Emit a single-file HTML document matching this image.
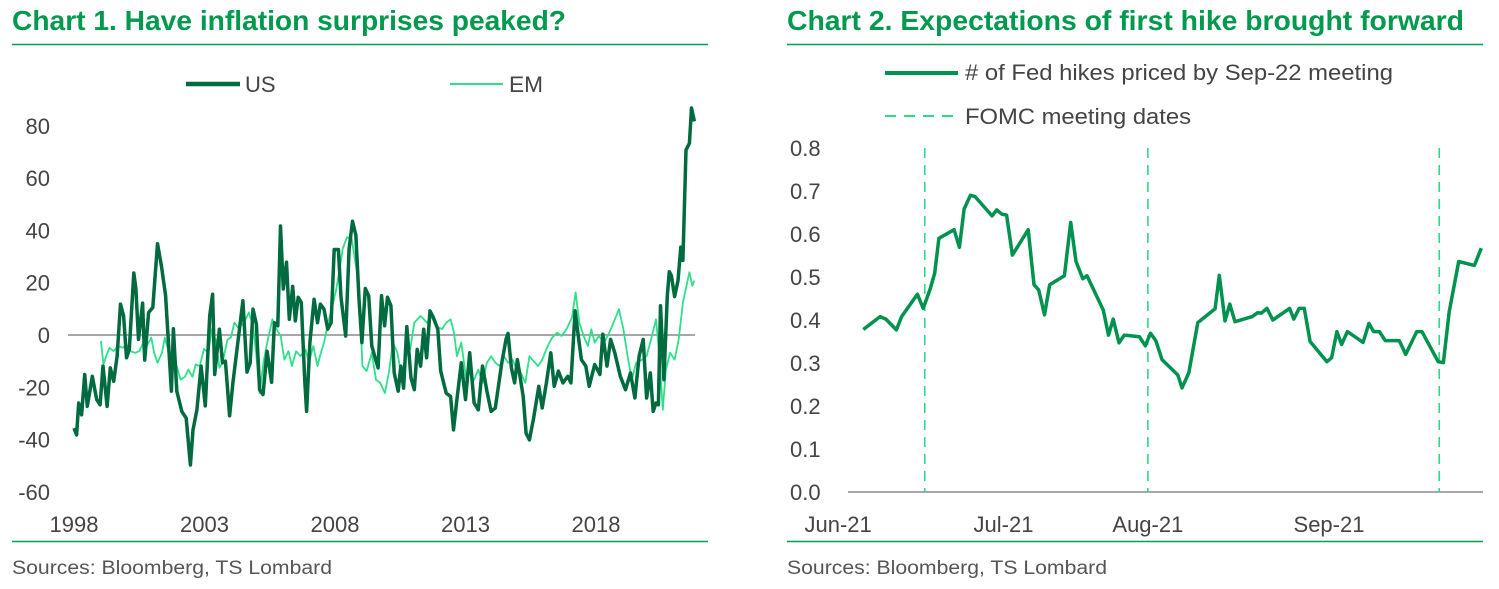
<!DOCTYPE html>
<html><head><meta charset="utf-8"><style>
html,body{margin:0;padding:0;background:#fff;}
svg{display:block;font-family:"Liberation Sans",sans-serif;}
</style></head><body>
<svg width="1499" height="589" viewBox="0 0 1499 589" xmlns="http://www.w3.org/2000/svg">
<text x="12" y="30" font-size="28" font-weight="bold" fill="#009A4E" textLength="554" lengthAdjust="spacingAndGlyphs">Chart 1. Have inflation surprises peaked?</text>
<line x1="12" y1="44.5" x2="708" y2="44.5" stroke="#00A050" stroke-width="1.5"/>
<line x1="12" y1="541.5" x2="708" y2="541.5" stroke="#00A050" stroke-width="1.5"/>
<text x="12" y="574" font-size="19" fill="#555" textLength="320" lengthAdjust="spacingAndGlyphs">Sources: Bloomberg, TS Lombard</text>
<text x="787" y="30" font-size="28" font-weight="bold" fill="#009A4E" textLength="677" lengthAdjust="spacingAndGlyphs">Chart 2. Expectations of first hike brought forward</text>
<line x1="787" y1="44.5" x2="1483" y2="44.5" stroke="#00A050" stroke-width="1.5"/>
<line x1="787" y1="541.5" x2="1483" y2="541.5" stroke="#00A050" stroke-width="1.5"/>
<text x="787" y="574" font-size="19" fill="#555" textLength="320" lengthAdjust="spacingAndGlyphs">Sources: Bloomberg, TS Lombard</text>

<g>
<line x1="186" y1="84" x2="240" y2="84" stroke="#006B3F" stroke-width="4.5"/>
<text x="245" y="92" font-size="22" fill="#444">US</text>
<line x1="450" y1="84" x2="503" y2="84" stroke="#2EE08A" stroke-width="2"/>
<text x="509" y="92" font-size="22" fill="#444" textLength="34" lengthAdjust="spacingAndGlyphs">EM</text>
</g>
<g>
<line x1="885" y1="73" x2="958" y2="73" stroke="#00934F" stroke-width="4"/>
<text x="965" y="80" font-size="22" fill="#444" textLength="428" lengthAdjust="spacingAndGlyphs"># of Fed hikes priced by Sep-22 meeting</text>
<line x1="885" y1="116" x2="958" y2="116" stroke="#2ED888" stroke-width="2" stroke-dasharray="11,8"/>
<text x="965" y="124" font-size="22" fill="#444" textLength="226" lengthAdjust="spacingAndGlyphs">FOMC meeting dates</text>
</g>
<g id="c1"></g>
<g id="c2"></g>
</svg>
<script>
const NS="http://www.w3.org/2000/svg";
// ---- Chart 1 data ----
const c1YTicks=[80,60,40,20,0,-20,-40,-60];
const c1XTicks=[1998,2003,2008,2013,2018];
const usYears=[1998.00,1998.10,1998.18,1998.29,1998.41,1998.51,1998.70,1998.87,1999.00,1999.11,1999.27,1999.39,1999.52,1999.65,1999.78,1999.90,2000.01,2000.12,2000.29,2000.37,2000.47,2000.63,2000.71,2000.86,2001.02,2001.20,2001.35,2001.51,2001.73,2001.81,2001.94,2002.13,2002.30,2002.46,2002.56,2002.71,2002.87,2003.03,2003.20,2003.31,2003.39,2003.57,2003.69,2003.80,2003.96,2004.09,2004.29,2004.47,2004.63,2004.75,2004.86,2004.99,2005.11,2005.24,2005.40,2005.57,2005.68,2005.81,2005.91,2006.02,2006.14,2006.25,2006.38,2006.48,2006.59,2006.71,2006.84,2006.91,2007.04,2007.20,2007.33,2007.44,2007.58,2007.72,2007.85,2007.97,2008.13,2008.23,2008.41,2008.54,2008.67,2008.80,2008.92,2009.03,2009.16,2009.29,2009.41,2009.65,2009.78,2009.90,2010.01,2010.14,2010.27,2010.42,2010.52,2010.63,2010.75,2010.91,2011.04,2011.15,2011.28,2011.40,2011.51,2011.64,2011.77,2011.94,2012.05,2012.26,2012.43,2012.54,2012.67,2012.84,2013.00,2013.16,2013.33,2013.49,2013.65,2013.82,2013.98,2014.14,2014.39,2014.55,2014.63,2014.76,2014.88,2014.99,2015.21,2015.32,2015.45,2015.61,2015.81,2015.94,2016.10,2016.27,2016.40,2016.56,2016.73,2016.92,2017.04,2017.20,2017.33,2017.44,2017.61,2017.74,2017.95,2018.15,2018.26,2018.42,2018.56,2018.72,2018.93,2019.13,2019.32,2019.49,2019.65,2019.81,2019.94,2020.08,2020.19,2020.30,2020.39,2020.47,2020.60,2020.73,2020.81,2020.89,2021.01,2021.14,2021.25,2021.33,2021.45,2021.58,2021.66,2021.77];
const usValues=[-35.6,-38.2,-26.0,-30.5,-15.1,-27.3,-15.8,-24.7,-26.7,-11.9,-27.3,-12.6,-17.7,-8.1,11.8,7.3,-8.7,-5.5,23.7,17.6,-1.7,12.2,-9.6,8.6,10.5,34.9,26.5,15.0,-21.5,2.4,-21.5,-29.2,-31.8,-49.7,-36.3,-28.6,-11.9,-27.1,7.3,15.6,-15.1,2.2,-10.6,-10.0,-30.9,-18.3,-1.7,13.1,-14.2,-10.6,9.9,4.1,-20.9,-22.8,-6.2,-18.1,4.7,3.5,41.7,17.6,27.8,6.0,18.6,5.4,14.4,12.4,-17.1,-29.2,-2.9,13.7,4.7,11.8,9.9,2.2,4.7,32.7,32.7,14.4,-0.4,32.9,43.5,38.1,13.7,-2.9,17.8,15.0,-4.2,-12.6,15.0,3.5,14.4,11.2,-14.5,-21.5,-11.9,-20.3,3.2,-16.4,-20.9,-5.5,-11.9,2.2,-8.7,9.2,6.7,2.2,-13.8,-22.2,-23.5,-36.3,-24.7,-10.6,-24.7,-6.8,-26.0,-28.6,-11.9,-21.5,-29.2,-27.9,-10.6,-1.7,0.6,-12.6,-18.3,-9.4,-23.5,-37.6,-40.1,-31.8,-19.6,-27.9,-18.3,-6.8,-19.6,-13.8,-18.3,-15.8,-18.3,9.2,-1.0,-9.4,-11.9,-19.6,-11.3,-15.1,0.3,-11.9,-1.7,-6.8,-15.8,-20.9,-14.5,-24.1,-8.1,-1.7,-24.1,-14.5,-29.2,-26.0,-26.7,11.2,-17.1,15.0,24.2,22.7,14.7,20.8,33.6,28.5,70.8,73.3,86.8,81.7];
const emYears=[1999.03,1999.13,1999.23,1999.36,1999.52,1999.68,1999.88,2000.01,2000.17,2000.34,2000.50,2000.61,2000.70,2000.79,2000.96,2001.07,2001.20,2001.37,2001.48,2001.64,2001.77,2001.94,2002.08,2002.25,2002.38,2002.54,2002.66,2002.82,2002.98,2003.15,2003.28,2003.44,2003.57,2003.69,2003.88,2004.01,2004.14,2004.29,2004.50,2004.70,2004.86,2004.99,2005.11,2005.27,2005.43,2005.60,2005.76,2005.92,2006.06,2006.22,2006.35,2006.51,2006.68,2006.87,2007.00,2007.17,2007.33,2007.44,2007.58,2007.74,2007.93,2008.05,2008.18,2008.29,2008.46,2008.64,2008.78,2008.92,2009.05,2009.21,2009.41,2009.57,2009.73,2009.91,2010.06,2010.22,2010.39,2010.55,2010.71,2010.88,2011.04,2011.28,2011.53,2011.69,2011.86,2012.10,2012.26,2012.43,2012.56,2012.67,2012.84,2013.03,2013.16,2013.33,2013.49,2013.65,2013.82,2013.98,2014.14,2014.31,2014.47,2014.63,2014.80,2014.96,2015.12,2015.29,2015.45,2015.61,2015.78,2015.94,2016.15,2016.32,2016.51,2016.68,2016.87,2017.08,2017.22,2017.36,2017.53,2017.69,2017.82,2017.95,2018.11,2018.31,2018.51,2018.67,2018.88,2019.05,2019.21,2019.37,2019.54,2019.78,2019.94,2020.14,2020.30,2020.43,2020.56,2020.68,2020.84,2021.01,2021.17,2021.33,2021.58,2021.69,2021.77];
const emValues=[-2.3,-11.3,-8.1,-4.9,-6.2,-4.2,-4.9,-3.6,-6.2,-6.8,-6.2,-4.0,-1.4,-4.2,-1.0,-6.8,-10.6,-6.8,-1.0,-6.8,-8.1,-11.9,-17.1,-16.0,-13.2,-16.0,-11.3,-11.9,-5.3,-6.8,2.2,-2.3,-12.6,-10.6,-1.7,-1.0,4.7,2.8,4.5,8.6,3.5,-8.1,-22.2,-10.0,-1.7,6.0,2.2,-0.4,-9.4,-6.2,-11.9,-6.2,-8.1,-5.5,-10.6,-4.2,-11.9,-7.4,-2.9,4.7,12.4,17.6,25.3,32.9,37.4,36.8,27.8,18.8,-11.9,-13.8,-6.8,-17.1,-18.3,-22.2,-14.5,-2.9,-6.8,-15.8,-8.1,-5.5,4.7,7.3,4.7,7.3,3.5,2.2,4.7,6.0,0.9,-8.1,-2.9,-17.1,-14.5,-17.1,-13.2,-18.3,-10.6,-8.1,-10.6,-11.9,-8.1,-10.6,-9.4,-13.2,-14.5,-18.3,-8.1,-10.0,-11.9,-9.4,-4.2,-1.0,0.9,-0.4,2.2,6.7,16.3,4.7,-0.4,-4.2,2.2,-2.9,-0.4,-2.9,0.9,4.7,9.9,2.2,-8.1,-17.1,-10.6,-9.4,-8.1,-0.4,6.0,-8.1,-28.6,-13.2,-6.8,-9.4,-1.7,12.4,24.0,18.8,20.8];
// ---- Chart 2 data (x = days since 1 Jun 2021) ----
const c2YTicks=[0.0,0.1,0.2,0.3,0.4,0.5,0.6,0.7,0.8];
const c2XTickLabels=["Jun-21","Jul-21","Aug-21","Sep-21"];
const c2XTickDays=[-1.5,30,57.5,92];
const fomcDays=[15,57.5,113];
const hikeDays=[3.3,6.5,7.6,9.6,10.6,13.6,14.7,16,16.9,17.7,20.6,21.6,22.5,23.7,24.6,27.8,28.7,29.7,30.6,31.7,34.7,35.8,36.7,37.8,38.8,41.6,42.8,43.8,45.1,45.9,49,50,50.9,52,53,55.9,57,58,59,60.2,63.2,64,65.3,67,70.3,71.1,72.2,73.1,74.1,77.4,78.4,79.1,80.2,81.3,84.5,85.3,86.3,87.3,88.4,91.6,92.5,93.5,94.4,95.5,98.5,99.6,100.5,101.6,102.7,105.4,106.6,108.7,109.7,112.8,113.8,114.9,116.7,119.7,121];
const hikeValues=[0.378,0.408,0.402,0.377,0.408,0.46,0.427,0.471,0.509,0.59,0.61,0.569,0.658,0.69,0.687,0.642,0.656,0.646,0.644,0.551,0.61,0.482,0.47,0.412,0.482,0.503,0.627,0.536,0.496,0.503,0.423,0.365,0.402,0.347,0.365,0.361,0.34,0.369,0.352,0.308,0.272,0.242,0.277,0.394,0.426,0.504,0.398,0.437,0.396,0.408,0.417,0.416,0.427,0.4,0.427,0.402,0.427,0.427,0.35,0.303,0.312,0.373,0.343,0.373,0.348,0.392,0.373,0.373,0.352,0.352,0.32,0.373,0.373,0.303,0.301,0.419,0.536,0.527,0.567];

const x1=y=>74+(y-1998)*26.1;
const y1=v=>335-v*2.615;
const x2=d=>846+d*5.25;
const y2=v=>492-v*430;

function mk(tag,attrs,parent){const e=document.createElementNS(NS,tag);for(const k in attrs)e.setAttribute(k,attrs[k]);parent.appendChild(e);return e;}
const g1=document.getElementById('c1'), g2=document.getElementById('c2');

c1YTicks.forEach(v=>{const t=mk('text',{x:50,y:y1(v)+8,'font-size':22,fill:'#444','text-anchor':'end'},g1);t.textContent=v;

});
c1XTicks.forEach(v=>{const t=mk('text',{x:x1(v),y:532,'font-size':22,fill:'#444','text-anchor':'middle'},g1);t.textContent=v;

});
const z=mk('line',{x1:68,x2:695,y1:y1(0),y2:y1(0),stroke:'#8a8a8a','stroke-width':1.5},g1);


const emP=mk('polyline',{points:emYears.map((y,i)=>x1(y).toFixed(1)+','+y1(emValues[i]).toFixed(1)).join(' '),fill:'none',stroke:'#2EE08A','stroke-width':1.8,'stroke-linejoin':'round'},g1);


const usP=mk('polyline',{points:usYears.map((y,i)=>x1(y).toFixed(1)+','+y1(usValues[i]).toFixed(1)).join(' '),fill:'none',stroke:'#006B3F','stroke-width':3.5,'stroke-linejoin':'round'},g1);



c2YTicks.forEach(v=>{const t=mk('text',{x:790,y:y2(v)+8,'font-size':22,fill:'#444'},g2);t.textContent=v.toFixed(1);

});
c2XTickLabels.forEach((s,i)=>{const t=mk('text',{x:x2(c2XTickDays[i]),y:532,'font-size':22,fill:'#444','text-anchor':'middle'},g2);t.textContent=s;

});
const ax=mk('line',{x1:848,x2:1483,y1:y2(0),y2:y2(0),stroke:'#8a8a8a','stroke-width':1.5},g2);


fomcDays.forEach(d=>{const l=mk('line',{x1:x2(d),x2:x2(d),y1:148,y2:y2(0),stroke:'#2ED888','stroke-width':1.6,'stroke-dasharray':'10,7'},g2);

});
const hp=mk('polyline',{points:hikeDays.map((d,i)=>x2(d).toFixed(1)+','+y2(hikeValues[i]).toFixed(1)).join(' '),fill:'none',stroke:'#00934F','stroke-width':3.5,'stroke-linejoin':'round'},g2);


</script>
</body></html>
